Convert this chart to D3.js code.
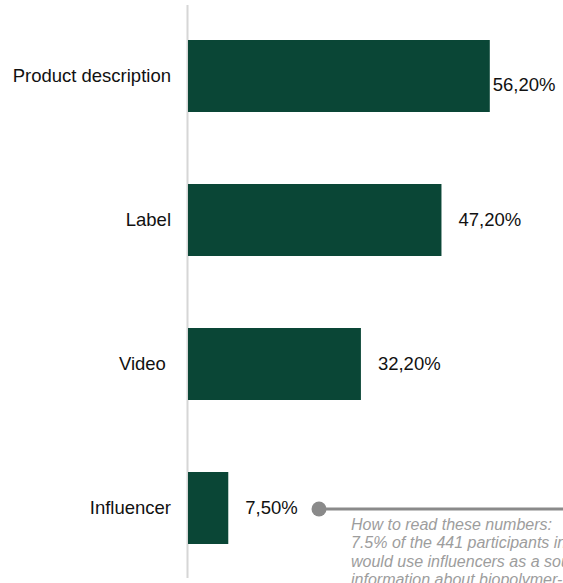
<!DOCTYPE html>
<html>
<head>
<meta charset="utf-8">
<script src="https://cdn.jsdelivr.net/npm/d3@7"></script>
<style>
  html, body { margin: 0; padding: 0; background: #fff; overflow: hidden; }
  svg { display: block; font-family: "Liberation Sans", Arial, sans-serif; }
  text { white-space: pre; }
</style>
</head>
<body>
<svg id="chart" width="563" height="583"></svg>
<script>
// Information sources respondents would use (% of participants)
const categories = ["Product description", "Label", "Video ", "Influencer"];
const values = [56.2, 47.2, 32.2, 7.5];
const valueLabels = ["56,20%", "47,20%", "32,20%", "7,50%"];

const noteLines = [
  "How to read these numbers:",
  "7.5% of the 441 participants in the survey",
  "would use influencers as a source of",
  "information about biopolymer-based products."
];

const W = 563, H = 583;
const axisX = 188;
const fontSize = 18.5;
const svg = d3.select("#chart");

const x = d3.scaleLinear().domain([0, 100]).range([axisX, axisX + 537]);
const y = d3.scaleBand().domain(categories).range([4, 580]).paddingInner(0.5).paddingOuter(0.25);

// vertical baseline
svg.append("line")
  .attr("x1", axisX - 0.5).attr("x2", axisX - 0.5)
  .attr("y1", 5).attr("y2", 578)
  .attr("stroke", "#d6d6d6").attr("stroke-width", 2);

// bars
svg.selectAll("rect.bar").data(values).join("rect")
  .attr("class", "bar")
  .attr("x", x(0))
  .attr("y", (d, i) => y(categories[i]))
  .attr("width", d => x(d) - x(0))
  .attr("height", y.bandwidth())
  .attr("fill", "#0a4636");

// category labels
svg.selectAll("text.cat").data(categories).join("text")
  .attr("class", "cat")
  .attr("x", axisX - 17)
  .attr("y", d => y(d) + y.bandwidth() / 2)
  .attr("dy", "0.35em")
  .attr("text-anchor", "end")
  .attr("font-size", fontSize)
  .attr("fill", "#111")
  .text(d => d);

// value labels: beside the bar end, or tucked under the corner when space runs out
svg.selectAll("text.val").data(values).join("text")
  .attr("class", "val")
  .each(function (d, i) {
    const t = d3.select(this)
      .attr("font-size", fontSize)
      .attr("fill", "#111")
      .text(valueLabels[i]);
    const w = this.getComputedTextLength();
    const cy = y(categories[i]) + y.bandwidth() / 2;
    const fits = x(d) + 17 + w < W - 10;
    t.attr("x", fits ? x(d) + 17 : x(d) + 3)
     .attr("y", fits ? cy : cy + 9)
     .attr("dy", "0.35em");
  });

// reading note attached to the last bar's label
const lastY = y(categories[3]) + y.bandwidth() / 2 + 1;
const noteX = 319;
svg.append("line")
  .attr("x1", noteX).attr("x2", W)
  .attr("y1", lastY).attr("y2", lastY)
  .attr("stroke", "#8a8a8a").attr("stroke-width", 3);
svg.append("circle")
  .attr("cx", noteX).attr("cy", lastY).attr("r", 7.5)
  .attr("fill", "#8a8a8a");

svg.append("text")
  .attr("x", 351).attr("y", lastY + 21)
  .attr("font-size", 16)
  .attr("font-style", "italic")
  .attr("fill", "#9d9d9d")
  .selectAll("tspan").data(noteLines).join("tspan")
  .attr("x", 351)
  .attr("dy", (d, i) => i === 0 ? 0 : 18.3)
  .text(d => d);
</script>
</body>
</html>
